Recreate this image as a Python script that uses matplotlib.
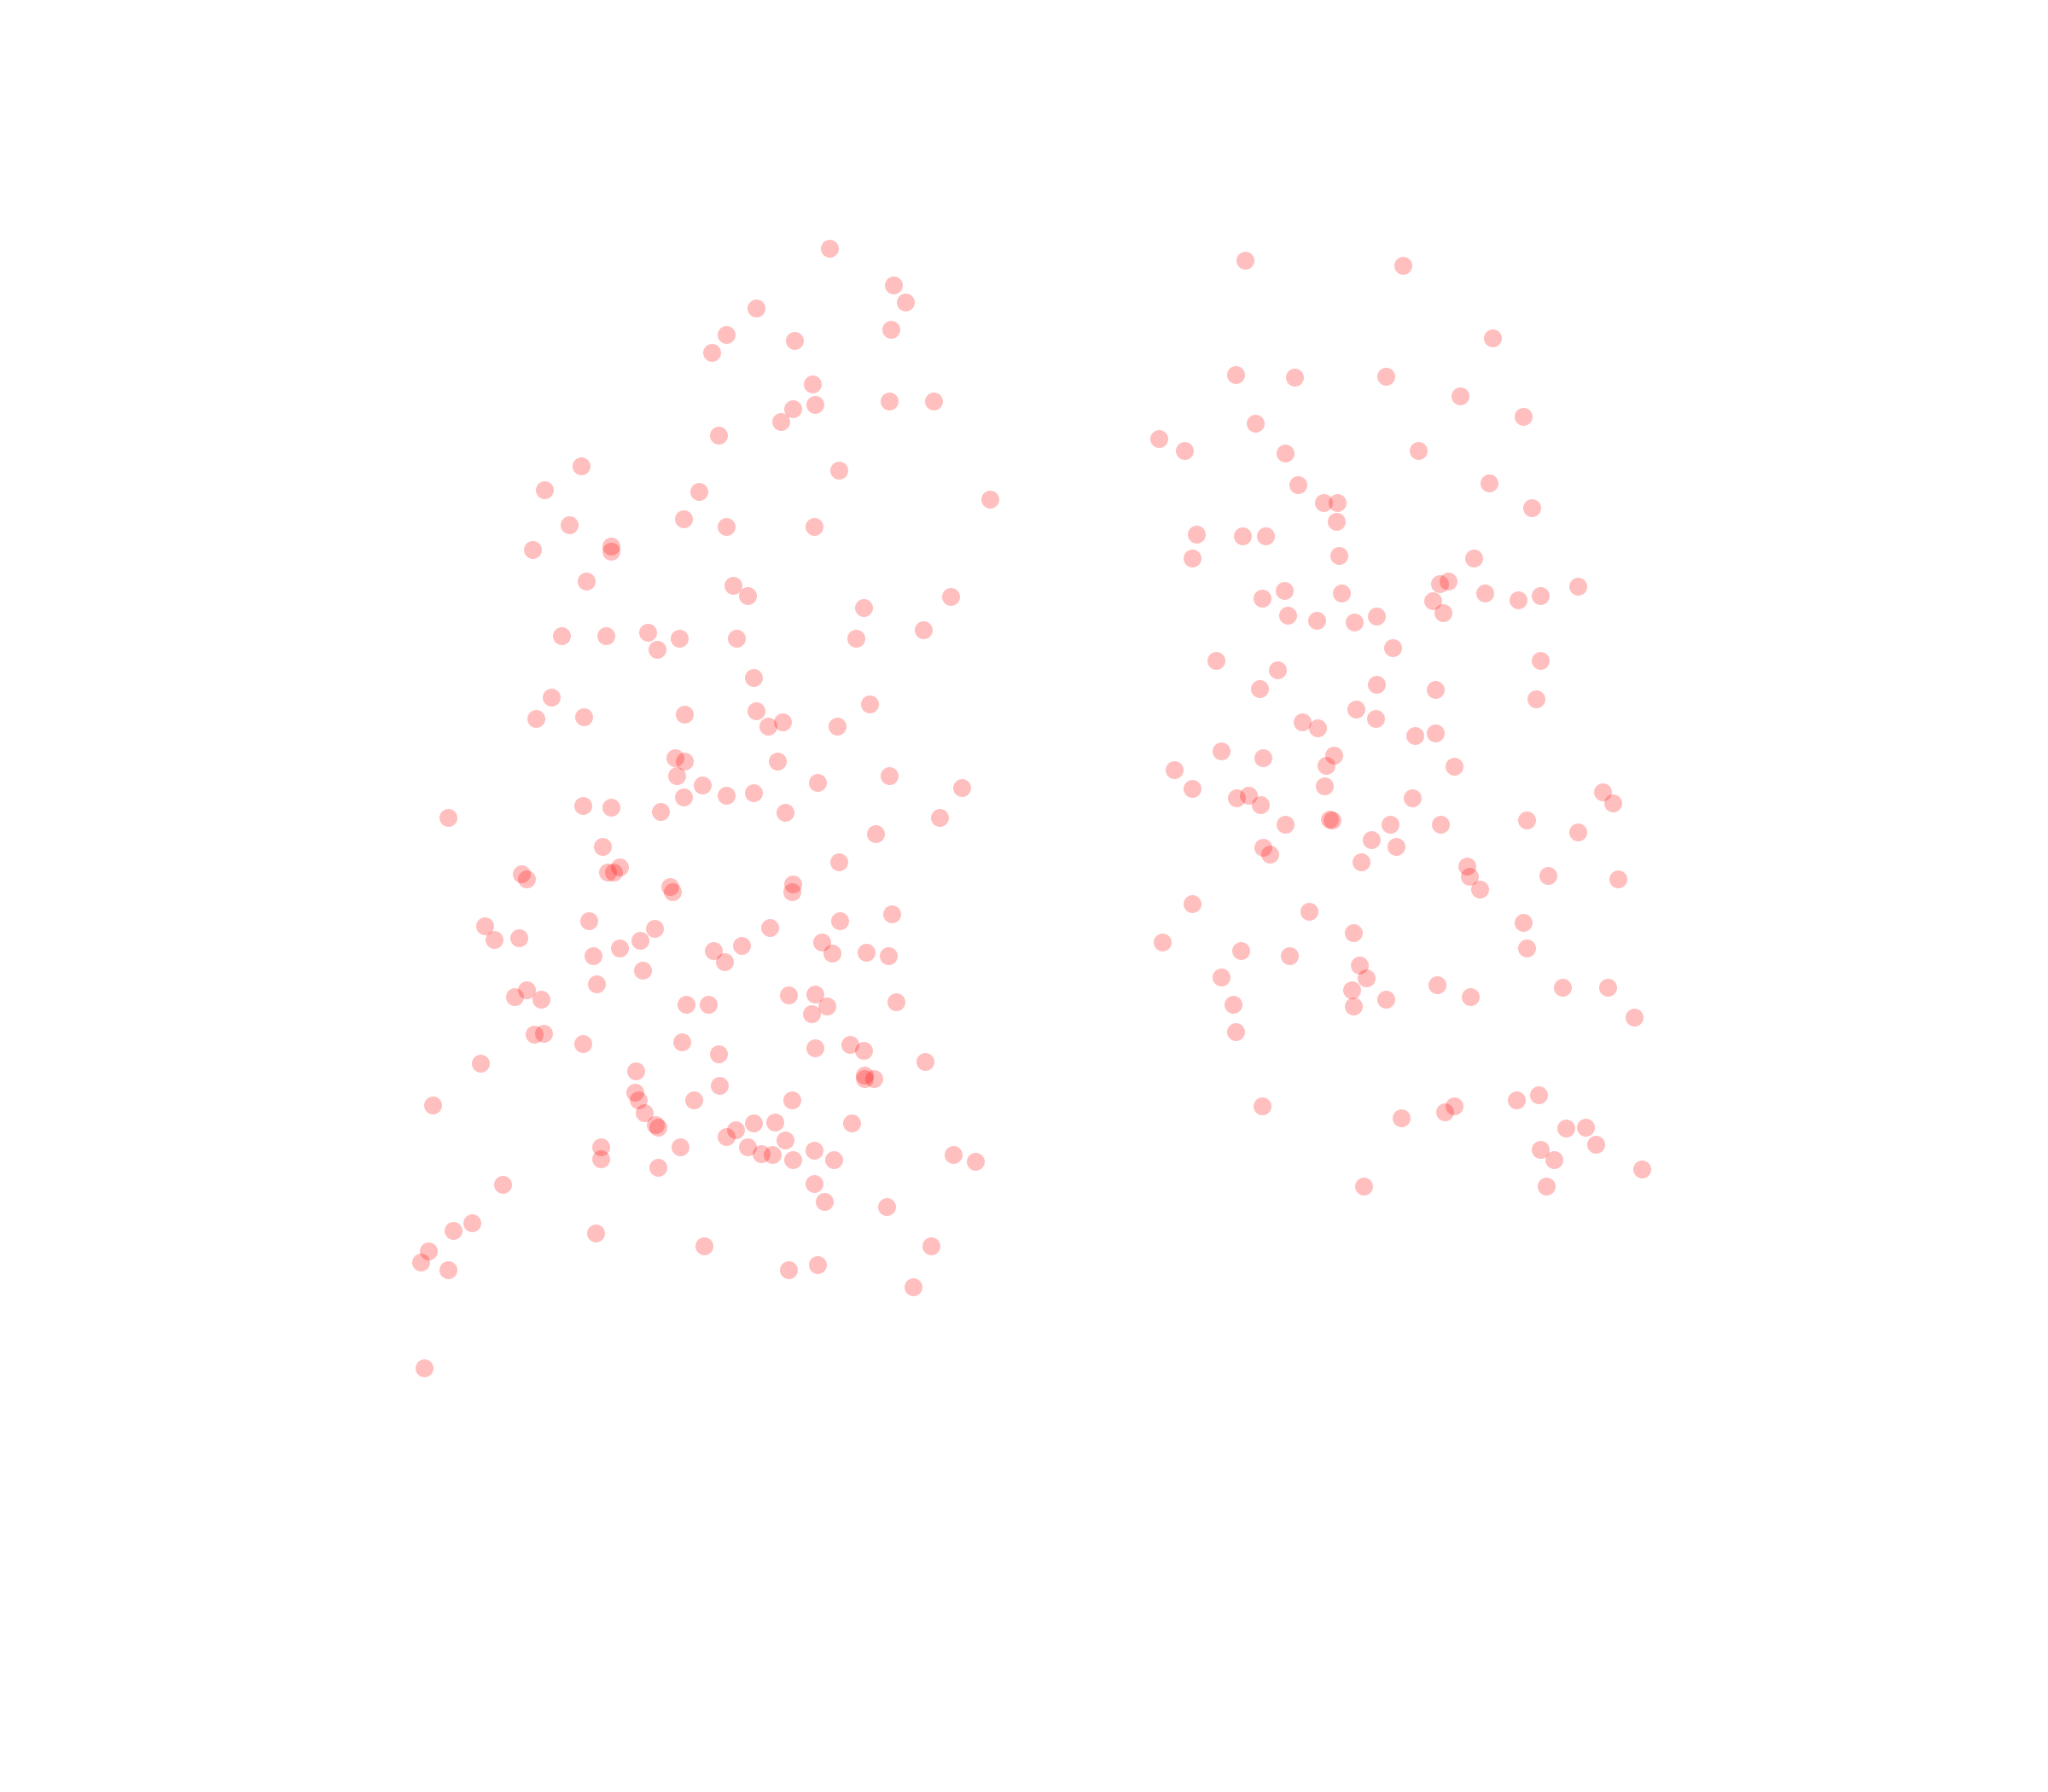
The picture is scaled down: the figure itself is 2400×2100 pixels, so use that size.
import numpy as np
import matplotlib
matplotlib.use("Agg")
from matplotlib import pyplot as plt

# left group
x_left = [635, 684, 693, 579, 682, 556, 608, 545, 622, 681, 715, 607, 624, 598, 550,
          445, 642, 417, 535, 758, 436, 523, 556, 623, 408, 468, 468, 449, 561, 572,
          728, 661, 430, 464, 496, 520, 564, 655, 503, 707, 577, 422, 410, 447, 524,
          579, 599, 588, 641, 666, 517, 524, 595, 681, 518, 538, 626, 736, 523, 556,
          577, 446, 468, 506, 601, 719, 343, 670, 461, 642, 399, 403, 465, 470, 474,
          513, 515, 607, 606, 683, 643, 451, 371, 378, 397, 501, 490, 589, 629, 474,
          454, 546, 568, 555, 637, 663, 680, 492, 457, 403, 394, 414, 525, 542, 604,
          624, 633, 621, 686, 409, 416, 446, 522, 550, 624, 651, 661, 368, 708, 487,
          662, 662, 669, 551, 486, 489, 531, 606, 331, 493, 502, 504, 577, 593, 563,
          556, 652, 601, 460, 521, 572, 583, 591, 607, 623, 638, 730, 747, 460, 504,
          385, 623, 631, 679, 361, 347, 456, 328, 539, 713, 322, 343, 604, 626, 699,
          325]
y_left = [190, 218, 231, 236, 252, 256, 261, 270, 294, 307, 307, 313, 310, 323, 333,
          357, 360, 375, 376, 382, 402, 397, 403, 403, 421, 418, 422, 445, 448, 456,
          457, 465, 487, 487, 484, 489, 489, 489, 497, 482, 519, 534, 550, 549, 547,
          544, 553, 556, 556, 539, 580, 583, 583, 594, 594, 601, 599, 603, 610, 609,
          607, 617, 618, 621, 622, 626, 626, 638, 648, 660, 669, 673, 668, 668, 664,
          679, 683, 677, 683, 700, 705, 705, 709, 719, 718, 711, 720, 710, 721, 726,
          732, 728, 724, 736, 730, 729, 732, 743, 753, 758, 763, 765, 769, 769, 762,
          761, 770, 776, 767, 792, 791, 799, 798, 807, 802, 800, 804, 814, 813, 820,
          823, 826, 826, 831, 836, 842, 842, 842, 846, 852, 861, 863, 860, 859, 865,
          870, 860, 873, 878, 878, 878, 883, 884, 888, 881, 888, 884, 889, 887, 894,
          907, 906, 920, 924, 936, 942, 944, 958, 954, 954, 966, 972, 972, 968, 985,
          1047]

# right group
x_right = [953, 1074, 1143, 946, 991, 1061, 1118, 1166, 961, 887, 907, 984, 1086, 994,
           1140, 1013, 1024, 1173, 1023, 916, 951, 969, 913, 1025, 1128, 1109, 1102,
           983, 1027, 1137, 1208, 966, 1097, 1162, 1179, 986, 1008, 1037, 1054, 1105,
           1066, 931, 1179, 978, 964, 1054, 1099, 1176, 1038, 1053, 997, 1009, 1083,
           1099, 935, 967, 1021, 899, 1015, 1113, 913, 1014, 947, 956, 965, 1081, 1227,
           1235, 984, 1018, 1020, 1064, 1103, 1169, 1208, 1050, 967, 972, 1069, 1042,
           1123, 1125, 1185, 1239, 1133, 913, 1002, 1166, 890, 1036, 950, 987, 1169,
           1041, 935, 1046, 1100, 1196, 1231, 1035, 1061, 1126, 944, 1036, 1251, 946,
           966, 1161, 1178, 1073, 1106, 1113, 1199, 1214, 1222, 1179, 1190, 1257, 1044,
           1184]
y_right = [199, 203, 259, 287, 289, 288, 303, 319, 324, 336, 345, 347, 345, 371, 370,
           385, 385, 389, 399, 409, 410, 410, 427, 425, 427, 445, 447, 452, 454, 454,
           449, 458, 460, 459, 456, 471, 475, 476, 472, 469, 496, 506, 506, 513, 527,
           524, 528, 535, 543, 550, 553, 557, 563, 561, 575, 580, 578, 589, 586, 587,
           604, 602, 611, 609, 616, 611, 606, 615, 631, 627, 628, 631, 631, 628, 637,
           643, 649, 654, 648, 660, 663, 671, 670, 673, 681, 692, 698, 706, 721, 714,
           728, 732, 726, 739, 748, 749, 754, 756, 756, 758, 765, 763, 769, 770, 779,
           790, 847, 842, 838, 856, 851, 847, 864, 863, 876, 880, 888, 895, 908, 908]

x = np.array(x_left + x_right)
y = np.array(y_left + y_right)

fig = plt.figure(figsize=(12, 10.5), dpi=200)
ax = fig.add_axes([0, 0, 1, 1])
ax.scatter(x, y, s=57, c='red', alpha=0.25, linewidths=0)
ax.set_xlim(0, 1568)
ax.set_ylim(1372, 0)
ax.axis('off')

plt.savefig('out.png', dpi=200)
